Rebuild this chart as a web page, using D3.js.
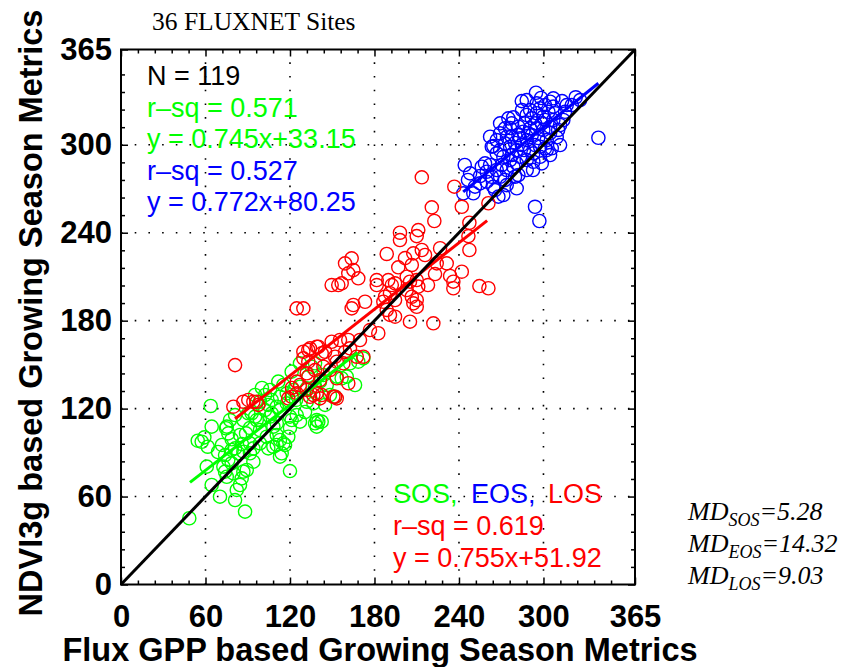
<!DOCTYPE html>
<html>
<head>
<meta charset="utf-8">
<script src="https://cdn.jsdelivr.net/npm/d3@7"></script>
<style>
  html, body { margin: 0; padding: 0; background: #fff; }
  svg { display: block; }
</style>
</head>
<body>
<svg id="chart" width="845" height="667"></svg>
<script>
// ---------------- DATA ----------------
const sosX = [63.7,64.4,54.5,59.2,61.6,57.3,76.2,78.6,84.5,88.8,
  91.6,94.0,98.7,98.7,105.8,108.2,110.6,112.9,115.3,118.8,
  121.2,124.8,137.8,139.0,120.0,110.6,108.2,114.1,104.6,60.9,
  73.9,76.2,78.6,81.0,83.3,72.7,73.9,78.6,86.9,89.3,
  94.0,85.7,84.5,82.2,64.4,70.3,81.0,88.1,48.5,90.4,
  95.2,102.3,110.6,103.5,98.7,86.9,91.6,75.1,79.8,74.6,
  127.1,140.1,116.5,112.9,121.2,127.1,137.8,133.0,143.7,153.2,
  156.7,166.2,162.6,168.5,172.1,111.7,115.3,105.8,102.3,98.7,
  107.0,112.9,117.7,122.4,127.1,131.9,137.8,141.3,146.1,107.0,
  120.0,139.0,142.5,92.8,96.4,86.9,110.6,104.6,131.9,136.6,
  117.7,135.4,160.3,152.0,81.0,75.1,124.3,112.9,100.1,148.4,
  130.7,91.6,85.9,71.7,68.9,95.2,144.9,120.0,77.4];
const sosY = [121.8,107.7,98.1,100.4,94.0,97.4,103.1,99.1,102.0,103.1,
  96.3,92.9,105.4,112.2,114.5,107.7,102.0,98.6,96.3,100.8,
  112.2,115.6,110.0,107.7,77.4,95.2,94.0,89.5,92.9,80.4,
  88.3,84.9,91.8,92.9,89.5,80.4,77.0,82.7,77.0,78.1,
  83.8,72.4,67.9,64.5,67.9,59.9,57.6,49.7,45.2,116.8,
  114.5,119.0,121.3,100.8,96.3,90.6,89.5,73.5,75.9,106.6,
  111.1,111.1,95.2,87.2,145.2,150.9,150.9,141.8,142.9,141.8,
  140.7,136.1,150.9,152.0,154.3,138.4,136.1,132.7,129.3,124.7,
  125.9,128.1,130.4,132.7,134.9,133.8,134.9,138.4,136.1,116.8,
  114.5,112.2,111.1,116.8,112.2,112.2,110.0,122.5,124.7,123.6,
  123.6,148.6,141.8,128.1,115.6,107.7,125.9,119.0,134.1,129.3,
  117.7,106.8,95.8,95.2,90.4,129.3,122.5,106.8,112.2];

const eosX = [294.7,284.6,307.0,322.9,320.1,339.0,309.4,278.6,269.2,264.4,
  244.1,256.2,247.9,251.4,243.1,255.0,259.7,264.4,268.0,282.2,
  294.0,297.1,304.7,302.3,297.6,288.1,275.1,250.2,259.7,265.6,
  273.9,311.8,292.8,281.0,276.3,271.5,266.8,263.3,266.8,269.2,
  272.7,277.5,282.2,286.9,291.7,295.2,297.6,301.1,304.7,307.0,
  303.5,299.9,298.8,295.2,291.7,288.1,284.6,281.0,276.3,272.7,
  277.5,282.2,285.7,290.5,294.0,295.2,290.5,288.1,299.9,304.7,
  307.0,308.2,302.3,297.6,294.0,290.5,283.4,278.6,273.9,270.4,
  266.8,262.1,263.3,269.2,272.7,279.8,288.1,292.8,301.1,305.9,
  298.8,281.0,271.5,246.4,314.1,316.5,326.0,315.3,262.1,258.5,
  288.1,283.4,310.4,276.3,284.8,301.1,311.8,289.1,296.2,277.7,
  255.0,304.7,313.2,279.8,269.2,298.3,286.2,274.1,292.6];
const eosY = [335.5,329.8,331.7,332.4,327.1,304.8,305.1,318.7,314.6,299.1,
  286.2,285.0,280.5,271.4,266.9,273.7,281.6,271.4,264.6,279.4,
  257.7,248.0,293.0,296.4,291.8,289.6,318.0,266.9,274.8,269.1,
  272.5,313.5,294.2,287.3,289.6,291.8,294.2,298.7,303.2,307.8,
  311.2,314.6,312.3,314.6,318.0,321.5,324.9,327.1,329.4,326.0,
  322.5,319.1,314.6,311.2,306.6,303.2,299.8,296.4,298.7,301.0,
  305.5,306.6,308.9,311.2,314.6,328.3,323.7,320.3,310.1,312.3,
  316.9,321.5,303.2,298.7,299.8,296.4,291.8,285.0,282.8,286.2,
  282.8,286.2,278.2,278.2,276.0,278.2,282.8,288.4,297.6,297.6,
  287.3,270.3,265.7,276.0,316.9,327.1,330.5,322.5,305.5,287.3,
  330.5,304.4,310.1,311.4,323.7,316.9,299.8,308.0,304.6,293.0,
  278.7,308.0,329.8,301.2,296.4,331.9,296.4,305.5,282.8];

const losX = [213.6,236.7,220.7,222.5,242.0,260.9,247.4,246.7,247.4,198.1,
  198.1,211.1,210.0,188.7,207.6,213.6,215.9,226.6,196.9,206.5,
  224.2,231.3,242.0,223.0,233.7,236.0,236.0,254.5,260.9,163.8,
  159.1,165.0,161.4,168.5,156.7,149.6,154.3,181.6,181.6,189.8,
  192.3,194.6,202.9,205.2,210.0,211.1,202.9,187.5,191.0,186.3,
  206.5,210.0,210.0,207.6,173.3,165.0,163.8,188.7,191.0,194.6,
  205.2,221.8,124.8,129.5,81.0,79.8,90.4,96.4,133.0,139.0,
  142.5,149.6,155.5,161.4,162.6,167.4,153.2,152.0,139.0,141.3,
  134.2,118.8,124.8,131.9,133.0,124.8,129.5,133.0,182.7,86.9,
  97.5,129.5,144.9,157.9,172.1,127.1,121.2,142.5,153.2,153.2,
  137.8,143.7,131.9,136.6,150.8,161.4,94.0,140.1,134.2,152.0,
  169.7,148.4,121.4,176.8,194.6,218.0,201.7,141.3,159.1];
const losY = [277.8,271.4,257.3,248.0,257.7,260.1,246.8,237.7,228.2,240.0,
  235.0,241.8,237.7,225.5,225.9,228.2,224.8,229.4,216.4,218.0,
  219.1,219.1,213.4,211.8,210.5,206.6,202.1,203.6,202.1,222.5,
  219.1,214.5,212.3,208.9,205.5,204.3,204.3,207.7,204.3,207.7,
  204.3,205.5,210.0,206.6,207.7,203.2,200.9,196.3,198.7,192.9,
  196.3,194.1,189.5,191.8,192.9,190.7,188.4,187.3,183.9,182.7,
  179.3,178.2,188.4,188.4,149.7,121.3,125.9,124.7,160.0,162.2,
  157.7,165.6,166.8,166.8,161.1,155.4,152.0,128.1,130.4,127.0,
  128.1,127.0,130.4,144.1,141.8,138.4,154.3,152.0,171.4,124.7,
  122.5,158.8,158.8,150.9,155.4,136.1,128.1,129.3,127.0,140.7,
  146.3,148.6,132.7,129.3,128.1,137.3,124.7,162.2,161.1,155.4,
  166.8,146.3,134.1,173.6,194.1,204.3,222.7,139.5,158.6];

// regression fits: [slope, intercept, xStart, xEnd]
const fitSOS = [0.745, 33.15, 49, 168];
const fitEOS = [0.772, 80.25, 243, 339];
const fitLOS = [0.755, 51.92, 81, 260];

const tickValues = [0, 60, 120, 180, 240, 300, 365];
const gridValues = [60, 120, 180, 240, 300];
const minorTicks = d3.range(12, 365, 12).filter(v => v % 60 !== 0);

const titleText = "36 FLUXNET Sites";
const xLabel = "Flux GPP based Growing Season Metrics";
const yLabel = "NDVI3g based Growing Season Metrics";
const statsTop = [
  ["N = 119", "#000000"],
  ["r\u2013sq = 0.571", "#00ff00"],
  ["y = 0.745x+33.15", "#00ff00"],
  ["r\u2013sq = 0.527", "#0000ff"],
  ["y = 0.772x+80.25", "#0000ff"]
];
const legendNames = [["SOS,", "#00ff00"], ["EOS,", "#0000ff"], ["LOS", "#ff0000"]];
const statsBottom = [["r\u2013sq = 0.619", "#ff0000"], ["y = 0.755x+51.92", "#ff0000"]];
const mdLabels = [["SOS", "=5.28"], ["EOS", "=14.32"], ["LOS", "=9.03"]];

const COL_SOS = "#00ff00", COL_EOS = "#0000ff", COL_LOS = "#ff0000";

// ---------------- CHART ----------------
const svg = d3.select("#chart");
const L = 121, R = 635, T = 49.5, B = 584.5;
const x = d3.scaleLinear().domain([0, 365]).range([L, R]);
const y = d3.scaleLinear().domain([0, 365]).range([B, T]);

const sans = "'Liberation Sans', Arial, Helvetica, sans-serif";
const serif = "'Liberation Serif', 'DejaVu Serif', serif";

// grid
const grid = svg.append("g").attr("stroke", "#000").attr("stroke-width", 1.6)
  .attr("stroke-dasharray", "1.6,12.1");
grid.selectAll("line.v").data(gridValues).join("line")
  .attr("x1", d => x(d)).attr("x2", d => x(d)).attr("y1", B).attr("y2", T);
grid.selectAll("line.h").data(gridValues).join("line").attr("class", "h")
  .attr("y1", d => y(d)).attr("y2", d => y(d)).attr("x1", L).attr("x2", R);

// points
function drawPts(xs, ys, col) {
  svg.append("g").selectAll("circle").data(xs.map((v, i) => [v, ys[i]])).join("circle")
    .attr("cx", d => x(d[0])).attr("cy", d => y(d[1])).attr("r", 6.6)
    .attr("fill", "none").attr("stroke", col).attr("stroke-width", 1.4);
}
drawPts(sosX, sosY, COL_SOS);
drawPts(eosX, eosY, COL_EOS);
drawPts(losX, losY, COL_LOS);

// regression lines
function drawFit(f, col) {
  svg.append("line")
    .attr("x1", x(f[2])).attr("y1", y(f[0] * f[2] + f[1]))
    .attr("x2", x(f[3])).attr("y2", y(f[0] * f[3] + f[1]))
    .attr("stroke", col).attr("stroke-width", 3);
}
drawFit(fitSOS, COL_SOS);
drawFit(fitEOS, COL_EOS);
drawFit(fitLOS, COL_LOS);

// 1:1 line
svg.append("line").attr("x1", x(0)).attr("y1", y(0)).attr("x2", x(365)).attr("y2", y(365))
  .attr("stroke", "#000").attr("stroke-width", 3);

// axes
function styleAxis(g) {
  g.select(".domain").remove();
  g.selectAll(".tick line").attr("stroke", "#000").attr("stroke-width", 1.5);
  g.selectAll("text").attr("font-family", sans).attr("font-weight", "bold")
    .attr("font-size", 31).attr("fill", "#000");
}
svg.append("g").attr("transform", `translate(0,${B})`)
  .call(d3.axisBottom(x).tickValues(tickValues).tickFormat(d3.format("d"))
    .tickSizeInner(-7).tickSizeOuter(0).tickPadding(20)).call(styleAxis);
svg.append("g").attr("transform", `translate(0,${B})`)
  .call(d3.axisBottom(x).tickValues(minorTicks).tickFormat("").tickSizeInner(-4).tickSizeOuter(0)).call(styleAxis);
svg.append("g").attr("transform", `translate(0,${T})`)
  .call(d3.axisTop(x).tickValues(tickValues).tickFormat("").tickSizeInner(-7).tickSizeOuter(0)).call(styleAxis);
svg.append("g").attr("transform", `translate(0,${T})`)
  .call(d3.axisTop(x).tickValues(minorTicks).tickFormat("").tickSizeInner(-4).tickSizeOuter(0)).call(styleAxis);
svg.append("g").attr("transform", `translate(${L},0)`)
  .call(d3.axisLeft(y).tickValues(tickValues).tickFormat(d3.format("d"))
    .tickSizeInner(-7).tickSizeOuter(0).tickPadding(9)).call(styleAxis);
svg.append("g").attr("transform", `translate(${L},0)`)
  .call(d3.axisLeft(y).tickValues(minorTicks).tickFormat("").tickSizeInner(-4).tickSizeOuter(0)).call(styleAxis);
svg.append("g").attr("transform", `translate(${R},0)`)
  .call(d3.axisRight(y).tickValues(tickValues).tickFormat("").tickSizeInner(-7).tickSizeOuter(0)).call(styleAxis);
svg.append("g").attr("transform", `translate(${R},0)`)
  .call(d3.axisRight(y).tickValues(minorTicks).tickFormat("").tickSizeInner(-4).tickSizeOuter(0)).call(styleAxis);

// frame
svg.append("rect").attr("x", L).attr("y", T).attr("width", R - L).attr("height", B - T)
  .attr("fill", "none").attr("stroke", "#000").attr("stroke-width", 2);

// axis titles
svg.append("text").attr("x", 380).attr("y", 661).attr("text-anchor", "middle")
  .attr("font-family", sans).attr("font-weight", "bold").attr("font-size", 32.5).text(xLabel);
svg.append("text").attr("transform", "translate(42,313) rotate(-90)").attr("text-anchor", "middle")
  .attr("font-family", sans).attr("font-weight", "bold").attr("font-size", 32.5).text(yLabel);

// title
svg.append("text").attr("x", 152).attr("y", 30).attr("font-family", serif).attr("font-size", 25.5)
  .text(titleText);

// stats text
svg.append("g").selectAll("text").data(statsTop).join("text")
  .attr("x", 147).attr("y", (d, i) => 85 + i * 31.5)
  .attr("font-family", sans).attr("font-size", 27).attr("fill", d => d[1]).text(d => d[0]);

const legendX = [393, 471, 548];
const lt = svg.append("text").attr("y", 503).attr("font-family", sans).attr("font-size", 27);
lt.selectAll("tspan").data(legendNames).join("tspan")
  .attr("x", (d, i) => legendX[i]).attr("fill", d => d[1]).text(d => d[0]);

svg.append("g").selectAll("text").data(statsBottom).join("text")
  .attr("x", 393).attr("y", (d, i) => 535 + i * 32)
  .attr("font-family", sans).attr("font-size", 27).attr("fill", d => d[1]).text(d => d[0]);

// MD labels
const md = svg.append("g").attr("font-family", serif).attr("font-style", "italic");
mdLabels.forEach((d, i) => {
  const t = md.append("text").attr("x", 688).attr("y", 520 + i * 32).attr("font-size", 26);
  t.append("tspan").text("MD");
  t.append("tspan").attr("font-size", 18).attr("dy", 6).text(d[0]);
  t.append("tspan").attr("dy", -6).text(d[1]);
});
</script>
</body>
</html>
